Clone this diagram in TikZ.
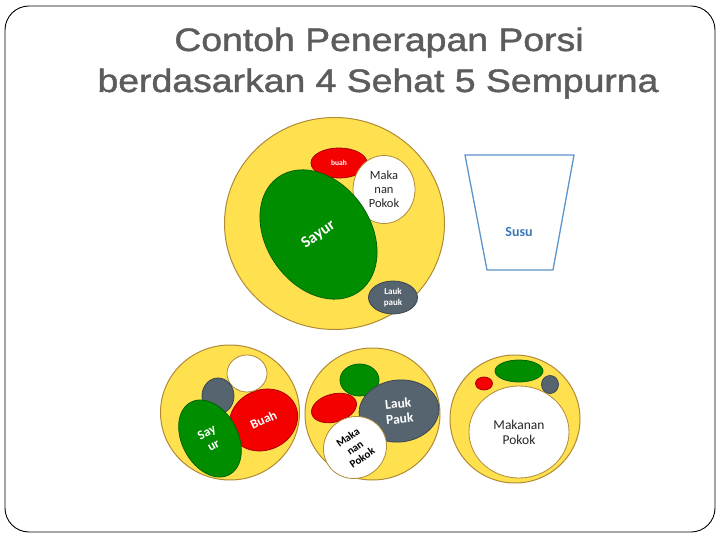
\documentclass[tikz,border=0pt]{standalone}
\usepackage{fontspec}
\usepackage{graphicx}
\setmainfont{Liberation Sans}
\newfontfamily\titlefont[FakeBold=1.2]{Liberation Sans}
\newfontfamily\calib{Carlito}
\usetikzlibrary{shapes.geometric}
\definecolor{titlegray}{HTML}{5C5C5C}
\definecolor{plateY}{HTML}{FFE150}
\definecolor{plateB}{HTML}{B08A35}
\definecolor{vegG}{HTML}{008E00}
\definecolor{fruitR}{HTML}{F50000}
\definecolor{sideG}{HTML}{56646F}
\definecolor{cupB}{HTML}{5B95CC}
\definecolor{cupT}{HTML}{3A78B8}
\definecolor{darktext}{HTML}{262626}
\begin{document}
\begin{tikzpicture}[x=1pt,y=-1pt,
  plate/.style={ellipse, fill=plateY, draw=plateB, line width=1pt, inner sep=0pt},
  food/.style={ellipse, inner sep=0pt, line width=0.8pt, align=center},
  veg/.style={food, fill=vegG, draw=vegG!70!black, text=white},
  fruit/.style={food, fill=fruitR, draw=fruitR!70!black, text=white},
  side/.style={food, fill=sideG, draw=sideG!70!black, text=white},
  staple/.style={food, fill=white, draw=plateB, text=darktext},
  titletext/.style={anchor=base, text=titlegray, inner sep=0pt, font=\titlefont\fontsize{32.5}{39}\selectfont}]
\useasboundingbox (0,0) rectangle (720,540);
\fill[white] (0,0) rectangle (720,540);
\draw[line width=0.9pt, rounded corners=24pt] (5,6) rectangle (715,532);

% title
\node[titletext] (t1) at (379,51) {\scalebox{1.15}[1]{Contoh Penerapan Porsi}};
\node[titletext] (t2) at (378,92) {\scalebox{1.15}[1]{berdasarkan 4 Sehat 5 Sempurna}};

% big plate
\node[plate, minimum width=220pt, minimum height=212pt] (p0) at (334.5,223.5) {};
\node[fruit, minimum width=56pt, minimum height=30pt, font=\calib\bfseries\fontsize{7.5}{9}\selectfont] (p0r) at (339,163) {buah};
\node[staple, minimum width=62pt, minimum height=68pt, font=\calib\fontsize{12.5}{14}\selectfont] (p0w) at (384,189.5) {Maka\\nan\\Pokok};
\node[veg, minimum width=104pt, minimum height=140pt, rotate=35, font=\calib\bfseries\fontsize{16}{18}\selectfont] (p0g) at (318.5,234.5) {Sayur};
\node[side, minimum width=49pt, minimum height=33pt, font=\calib\bfseries\fontsize{9}{11}\selectfont] (p0s) at (393,297.5) {Lauk\\pauk};

% glass of milk
\draw[cupB, line width=1.3pt, line join=round] (465,155) -- (574,155) -- (553,270) -- (487,270) -- cycle;
\node[text=cupT, font=\calib\bfseries\fontsize{14}{16}\selectfont] (susu) at (519,232) {Susu};

% bottom plate 1
\node[plate, minimum width=139pt, minimum height=135pt] (p1) at (230,412.5) {};
\node[fruit, minimum width=70pt, minimum height=60pt, rotate=25, font=\calib\bfseries\fontsize{13}{15}\selectfont] (p1r) at (263.5,420) {Buah};
\node[staple, minimum width=40pt, minimum height=37pt] (p1w) at (247,373.5) {};
\node[side, minimum width=32pt, minimum height=36pt] (p1s) at (218,396) {};
\node[veg, minimum width=56pt, minimum height=82pt, rotate=28, font=\calib\bfseries\fontsize{13}{14.5}\selectfont] (p1g) at (210,438.5) {Say\\ur};

% bottom plate 2
\node[plate, minimum width=135pt, minimum height=132pt] (p2) at (372.5,414) {};
\node[veg, minimum width=39pt, minimum height=32pt] (p2g) at (359.5,380) {};
\node[fruit, minimum width=46pt, minimum height=28pt, rotate=15] (p2r) at (334,408) {};
\node[side, minimum width=80pt, minimum height=62pt, rotate=6, font=\calib\bfseries\fontsize{13.5}{15.5}\selectfont] (p2s) at (399,411) {Lauk\\Pauk};
\node[staple, minimum width=64pt, minimum height=61pt, rotate=35, text=black, font=\calib\bfseries\fontsize{11}{12.5}\selectfont] (p2w) at (355,447.5) {Maka\\nan\\Pokok};

% bottom plate 3
\node[plate, minimum width=130pt, minimum height=128pt] (p3) at (515,419) {};
\node[fruit, minimum width=17pt, minimum height=13pt] (p3r) at (484,383.5) {};
\node[veg, minimum width=48pt, minimum height=22pt] (p3g) at (519,371) {};
\node[side, minimum width=17pt, minimum height=18pt] (p3s) at (550,384.5) {};
\node[staple, minimum width=100pt, minimum height=92pt, font=\calib\fontsize{13.5}{15}\selectfont] (p3w) at (519,432) {Makanan\\Pokok};
\end{tikzpicture}
\end{document}
